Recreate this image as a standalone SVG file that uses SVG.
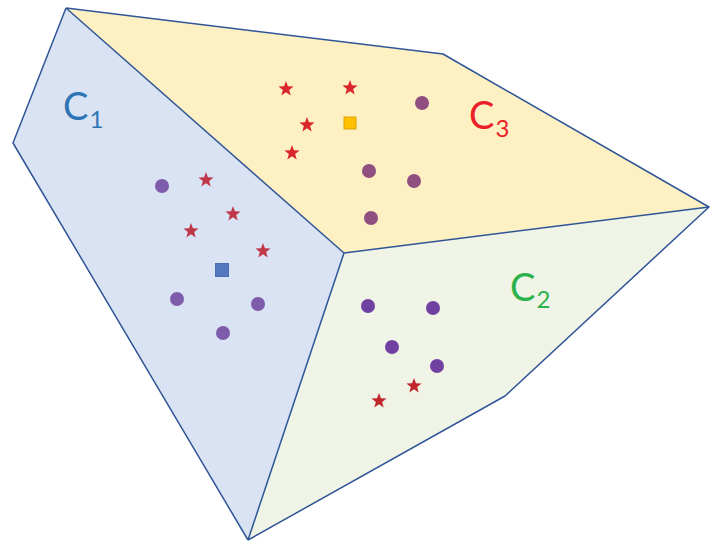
<svg xmlns="http://www.w3.org/2000/svg" xmlns:xlink="http://www.w3.org/1999/xlink" width="710" height="543" viewBox="0 0 710 543">
<style>
.edge{stroke:#2f5597;stroke-width:1.5;stroke-linejoin:round;fill:none}
.lbl{font-family:Lato,"Open Sans","Liberation Sans",sans-serif;font-size:38px}
.sub{font-size:24px}
.d1{fill:#7e5cab}.d3{fill:#8f4f7f}.d2{fill:#7141a1}
.s1{fill:#c0374a}.s3{fill:#d9262a}.s2{fill:#c0252c}
</style>
<defs>
<path id="star" d="M0,-8 L1.94,-2.67 L7.61,-2.47 L3.14,1.02 L4.70,6.47 L0,3.3 L-4.70,6.47 L-3.14,1.02 L-7.61,-2.47 L-1.94,-2.67Z"/>
</defs>
<rect width="710" height="543" fill="#ffffff"/>
<g id="region-c1">
<polygon points="66,8 13,143 248,540 344,253" fill="#dae3f3"/>
</g>
<g id="region-c3">
<polygon points="66,8 443,54 709,207 344,253" fill="#fdf0c3"/>
</g>
<g id="region-c2">
<polygon points="344,253 709,207 505,396 248,540" fill="#eff4e6"/>
</g>
<g id="connectors">
<polyline class="edge" points="66,8 13,143 248,540"/>
<polyline class="edge" points="66,8 443,54 709,207 505,396 248,540"/>
<line class="edge" x1="66" y1="8" x2="344" y2="253" stroke-width="2"/>
<line class="edge" x1="248" y1="540" x2="344" y2="253"/>
<line class="edge" x1="344" y1="253" x2="709" y2="207" stroke-width="3"/>
</g>
<g id="points-c1">
<circle class="d1" cx="162" cy="186" r="7"/>
<circle class="d1" cx="177" cy="299" r="7"/>
<circle class="d1" cx="258" cy="304" r="7"/>
<circle class="d1" cx="223" cy="333" r="7"/>
<use xlink:href="#star" class="s1" x="206" y="180"/>
<use xlink:href="#star" class="s1" x="233" y="214"/>
<use xlink:href="#star" class="s1" x="191" y="231"/>
<use xlink:href="#star" class="s1" x="263" y="251"/>
<rect x="215.5" y="263.5" width="13" height="13" fill="#5478c0" stroke="#4a6db3" stroke-width="1"/>
</g>
<g id="points-c3">
<circle class="d3" cx="422" cy="103" r="7"/>
<circle class="d3" cx="369" cy="171" r="7"/>
<circle class="d3" cx="414" cy="181" r="7"/>
<circle class="d3" cx="371" cy="218" r="7"/>
<use xlink:href="#star" class="s3" x="286" y="89"/>
<use xlink:href="#star" class="s3" x="350" y="88"/>
<use xlink:href="#star" class="s3" x="307" y="125"/>
<use xlink:href="#star" class="s3" x="292" y="153"/>
<rect x="344" y="117" width="12" height="12" fill="#ffc000" stroke="#dca400" stroke-width="1"/>
</g>
<g id="points-c2">
<circle class="d2" cx="368" cy="306" r="7"/>
<circle class="d2" cx="433" cy="308" r="7"/>
<circle class="d2" cx="392" cy="347" r="7"/>
<circle class="d2" cx="437" cy="366" r="7"/>
<use xlink:href="#star" class="s2" x="414" y="386"/>
<use xlink:href="#star" class="s2" x="379" y="401"/>
</g>
<g id="label-c1">
<text class="lbl" x="63" y="120" fill="#2e75b6">C<tspan class="sub" dx="1" dy="8">1</tspan></text>
</g>
<g id="label-c3">
<text class="lbl" x="469" y="129" fill="#ea2228">C<tspan class="sub" dx="1" dy="8">3</tspan></text>
</g>
<g id="label-c2">
<text class="lbl" x="510" y="301" fill="#2bb24c">C<tspan class="sub" dx="1" dy="7">2</tspan></text>
</g>
</svg>
